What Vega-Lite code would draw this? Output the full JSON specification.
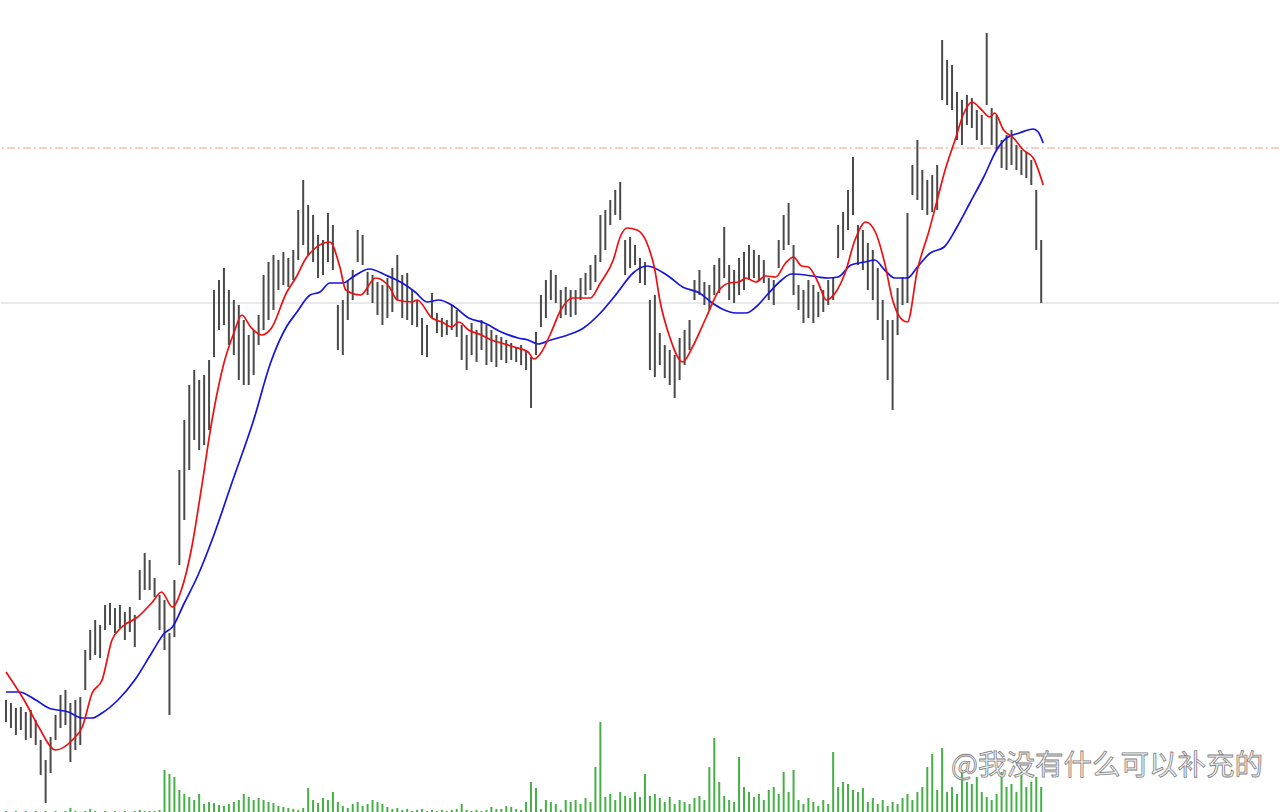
{
  "$schema": "https://vega.github.io/schema/vega-lite/v6.json",
  "width": 1280,
  "height": 812,
  "autosize": {"type": "fit", "contains": "padding"},
  "padding": 0,
  "background": "#ffffff",
  "config": {"view": {"stroke": null}},
  "datasets": {
    "p": [
      {"i":0,"h":112,"l":90,"v":1},{"i":1,"h":109,"l":84,"v":0},{"i":2,"h":104,"l":77,"v":1},{"i":3,"h":105,"l":82,"v":0},{"i":4,"h":100,"l":72,"v":1},
      {"i":5,"h":102,"l":74,"v":0},{"i":6,"h":92,"l":67,"v":1},{"i":7,"h":72,"l":37,"v":0},{"i":8,"h":52,"l":9,"v":1},{"i":9,"h":75,"l":39,"v":0},
      {"i":10,"h":97,"l":72,"v":1},{"i":11,"h":117,"l":84,"v":0},{"i":12,"h":122,"l":87,"v":1},{"i":13,"h":109,"l":50,"v":4},{"i":14,"h":112,"l":62,"v":1},
      {"i":15,"h":115,"l":67,"v":0},{"i":16,"h":162,"l":122,"v":1},{"i":17,"h":182,"l":152,"v":3},{"i":18,"h":192,"l":157,"v":1},{"i":19,"h":187,"l":154,"v":0},
      {"i":20,"h":207,"l":182,"v":1},{"i":21,"h":209,"l":187,"v":0},{"i":22,"h":204,"l":179,"v":1},{"i":23,"h":207,"l":184,"v":0},{"i":24,"h":200,"l":172,"v":1},
      {"i":25,"h":205,"l":180,"v":0},{"i":26,"h":197,"l":165,"v":1},{"i":27,"h":242,"l":212,"v":2},{"i":28,"h":259,"l":222,"v":1},{"i":29,"h":252,"l":222,"v":1},
      {"i":30,"h":234,"l":215,"v":1},{"i":31,"h":217,"l":182,"v":2},{"i":32,"h":212,"l":162,"v":42},{"i":33,"h":179,"l":97,"v":38},{"i":34,"h":232,"l":175,"v":35},
      {"i":35,"h":342,"l":247,"v":22},{"i":36,"h":392,"l":292,"v":18},{"i":37,"h":427,"l":342,"v":15},{"i":38,"h":442,"l":372,"v":12},{"i":39,"h":432,"l":362,"v":18},
      {"i":40,"h":437,"l":367,"v":8},{"i":41,"h":452,"l":382,"v":10},{"i":42,"h":522,"l":455,"v":9},{"i":43,"h":532,"l":482,"v":7},{"i":44,"h":544,"l":487,"v":6},
      {"i":45,"h":522,"l":467,"v":8},{"i":46,"h":512,"l":457,"v":10},{"i":47,"h":507,"l":432,"v":12},{"i":48,"h":492,"l":427,"v":18},{"i":49,"h":477,"l":427,"v":15},
      {"i":50,"h":482,"l":437,"v":12},{"i":51,"h":497,"l":467,"v":14},{"i":52,"h":537,"l":482,"v":12},{"i":53,"h":550,"l":492,"v":10},{"i":54,"h":557,"l":502,"v":9},
      {"i":55,"h":552,"l":522,"v":6},{"i":56,"h":560,"l":527,"v":5},{"i":57,"h":554,"l":525,"v":4},{"i":58,"h":562,"l":532,"v":3},{"i":59,"h":602,"l":552,"v":2},
      {"i":60,"h":632,"l":567,"v":4},{"i":61,"h":607,"l":557,"v":24},{"i":62,"h":597,"l":550,"v":12},{"i":63,"h":577,"l":534,"v":9},{"i":64,"h":572,"l":537,"v":14},
      {"i":65,"h":599,"l":550,"v":12},{"i":66,"h":587,"l":542,"v":20},{"i":67,"h":507,"l":462,"v":10},{"i":68,"h":512,"l":457,"v":6},{"i":69,"h":532,"l":492,"v":4},
      {"i":70,"h":542,"l":512,"v":8},{"i":71,"h":582,"l":550,"v":10},{"i":72,"h":577,"l":547,"v":6},{"i":73,"h":540,"l":517,"v":8},{"i":74,"h":537,"l":509,"v":12},
      {"i":75,"h":530,"l":497,"v":10},{"i":76,"h":527,"l":487,"v":8},{"i":77,"h":534,"l":494,"v":5},{"i":78,"h":544,"l":500,"v":3},{"i":79,"h":557,"l":512,"v":4},
      {"i":80,"h":537,"l":494,"v":2},{"i":81,"h":539,"l":492,"v":3},{"i":82,"h":522,"l":487,"v":1},{"i":83,"h":512,"l":485,"v":2},{"i":84,"h":494,"l":457,"v":3},
      {"i":85,"h":487,"l":455,"v":1},{"i":86,"h":519,"l":494,"v":2},{"i":87,"h":499,"l":479,"v":1},{"i":88,"h":494,"l":475,"v":2},{"i":89,"h":492,"l":477,"v":1},
      {"i":90,"h":507,"l":482,"v":2},{"i":91,"h":502,"l":475,"v":3},{"i":92,"h":487,"l":452,"v":8},{"i":93,"h":477,"l":442,"v":2},{"i":94,"h":489,"l":457,"v":1},
      {"i":95,"h":482,"l":450,"v":2},{"i":96,"h":492,"l":462,"v":1},{"i":97,"h":487,"l":447,"v":2},{"i":98,"h":482,"l":450,"v":5},{"i":99,"h":477,"l":445,"v":3},
      {"i":100,"h":475,"l":452,"v":3},{"i":101,"h":472,"l":449,"v":6},{"i":102,"h":469,"l":452,"v":5},{"i":103,"h":465,"l":450,"v":3},{"i":104,"h":467,"l":447,"v":2},
      {"i":105,"h":462,"l":442,"v":10},{"i":106,"h":455,"l":404,"v":30},{"i":107,"h":480,"l":457,"v":24},{"i":108,"h":517,"l":485,"v":3},{"i":109,"h":532,"l":494,"v":12},
      {"i":110,"h":542,"l":512,"v":10},{"i":111,"h":537,"l":509,"v":8},{"i":112,"h":522,"l":494,"v":2},{"i":113,"h":525,"l":497,"v":12},{"i":114,"h":522,"l":495,"v":10},
      {"i":115,"h":522,"l":497,"v":12},{"i":116,"h":534,"l":512,"v":8},{"i":117,"h":539,"l":517,"v":14},{"i":118,"h":547,"l":522,"v":10},{"i":119,"h":557,"l":530,"v":45},
      {"i":120,"h":597,"l":550,"v":90},{"i":121,"h":602,"l":562,"v":15},{"i":122,"h":612,"l":587,"v":18},{"i":123,"h":622,"l":597,"v":12},{"i":124,"h":630,"l":592,"v":20},
      {"i":125,"h":572,"l":537,"v":16},{"i":126,"h":575,"l":544,"v":14},{"i":127,"h":567,"l":547,"v":20},{"i":128,"h":554,"l":529,"v":15},{"i":129,"h":550,"l":527,"v":38},
      {"i":130,"h":512,"l":442,"v":16},{"i":131,"h":517,"l":435,"v":18},{"i":132,"h":479,"l":447,"v":14},{"i":133,"h":467,"l":434,"v":10},{"i":134,"h":462,"l":427,"v":15},
      {"i":135,"h":457,"l":414,"v":8},{"i":136,"h":474,"l":432,"v":12},{"i":137,"h":482,"l":447,"v":10},{"i":138,"h":492,"l":462,"v":8},{"i":139,"h":532,"l":512,"v":14},
      {"i":140,"h":542,"l":517,"v":16},{"i":141,"h":530,"l":507,"v":12},{"i":142,"h":527,"l":502,"v":45},{"i":143,"h":547,"l":517,"v":74},{"i":144,"h":554,"l":519,"v":30},
      {"i":145,"h":585,"l":534,"v":16},{"i":146,"h":547,"l":512,"v":12},{"i":147,"h":542,"l":509,"v":10},{"i":148,"h":554,"l":517,"v":55},{"i":149,"h":560,"l":522,"v":25},
      {"i":150,"h":567,"l":532,"v":20},{"i":151,"h":562,"l":534,"v":15},{"i":152,"h":557,"l":532,"v":18},{"i":153,"h":552,"l":529,"v":12},{"i":154,"h":534,"l":512,"v":22},
      {"i":155,"h":532,"l":507,"v":25},{"i":156,"h":572,"l":544,"v":18},{"i":157,"h":597,"l":562,"v":40},{"i":158,"h":609,"l":567,"v":20},{"i":159,"h":567,"l":517,"v":42},
      {"i":160,"h":527,"l":502,"v":12},{"i":161,"h":522,"l":489,"v":8},{"i":162,"h":532,"l":494,"v":14},{"i":163,"h":527,"l":489,"v":10},{"i":164,"h":520,"l":495,"v":6},
      {"i":165,"h":522,"l":500,"v":12},{"i":166,"h":532,"l":507,"v":8},{"i":167,"h":534,"l":512,"v":60},{"i":168,"h":587,"l":554,"v":25},{"i":169,"h":600,"l":562,"v":30},
      {"i":170,"h":622,"l":582,"v":28},{"i":171,"h":655,"l":597,"v":22},{"i":172,"h":587,"l":547,"v":20},{"i":173,"h":582,"l":542,"v":24},{"i":174,"h":569,"l":522,"v":10},
      {"i":175,"h":562,"l":512,"v":14},{"i":176,"h":544,"l":492,"v":8},{"i":177,"h":512,"l":472,"v":12},{"i":178,"h":492,"l":432,"v":6},{"i":179,"h":492,"l":402,"v":10},
      {"i":180,"h":524,"l":477,"v":8},{"i":181,"h":535,"l":507,"v":14},{"i":182,"h":599,"l":509,"v":18},{"i":183,"h":647,"l":617,"v":12},{"i":184,"h":672,"l":612,"v":20},
      {"i":185,"h":642,"l":602,"v":25},{"i":186,"h":632,"l":597,"v":45},{"i":187,"h":637,"l":600,"v":58},{"i":188,"h":647,"l":602,"v":22},{"i":189,"h":772,"l":712,"v":64},
      {"i":190,"h":752,"l":707,"v":20},{"i":191,"h":747,"l":702,"v":25},{"i":192,"h":720,"l":672,"v":18},{"i":193,"h":712,"l":667,"v":42},{"i":194,"h":717,"l":687,"v":30},
      {"i":195,"h":714,"l":684,"v":28},{"i":196,"h":702,"l":672,"v":35},{"i":197,"h":697,"l":667,"v":20},{"i":198,"h":779,"l":707,"v":15},{"i":199,"h":704,"l":667,"v":12},
      {"i":200,"h":697,"l":662,"v":18},{"i":201,"h":672,"l":644,"v":40},{"i":202,"h":677,"l":642,"v":25},{"i":203,"h":682,"l":647,"v":28},{"i":204,"h":667,"l":642,"v":20},
      {"i":205,"h":662,"l":637,"v":40},{"i":206,"h":660,"l":634,"v":25},{"i":207,"h":652,"l":627,"v":30},{"i":208,"h":622,"l":562,"v":35},{"i":209,"h":572,"l":509,"v":25}
    ],
    "red": [
      {"i":0,"y":140},{"i":4,"y":109},{"i":6.6,"y":85},{"i":10,"y":62},{"i":13.4,"y":72},{"i":15.4,"y":85},{"i":17.4,"y":119},{"i":19.4,"y":132},
      {"i":21.4,"y":172},{"i":23.4,"y":185},{"i":26.6,"y":195},{"i":29.4,"y":209},{"i":31.4,"y":220},{"i":33.6,"y":205},{"i":35.4,"y":222},{"i":37.4,"y":262},
      {"i":39.4,"y":322},{"i":41.6,"y":392},{"i":44,"y":449},{"i":46,"y":479},{"i":47.6,"y":497},{"i":49.4,"y":485},{"i":51.6,"y":477},{"i":53.6,"y":484},
      {"i":56.6,"y":519},{"i":58.6,"y":535},{"i":60.6,"y":554},{"i":62,"y":562},{"i":65.4,"y":570},{"i":67.4,"y":545},{"i":68.6,"y":522},{"i":71.6,"y":517},
      {"i":74.6,"y":534},{"i":77.4,"y":525},{"i":79,"y":512},{"i":82,"y":510},{"i":83,"y":512},{"i":86,"y":494},{"i":88,"y":490},{"i":90,"y":485},
      {"i":91.4,"y":490},{"i":93.4,"y":482},{"i":96,"y":477},{"i":98,"y":472},{"i":100,"y":469},{"i":102.6,"y":465},{"i":105.4,"y":460},{"i":106.6,"y":453},
      {"i":108,"y":459},{"i":110,"y":479},{"i":112,"y":502},{"i":114.4,"y":514},{"i":118,"y":514},{"i":120,"y":529},{"i":122.6,"y":552},{"i":124,"y":575},
      {"i":125.4,"y":584},{"i":127.4,"y":582},{"i":129.4,"y":569},{"i":131,"y":542},{"i":132,"y":512},{"i":134,"y":475},{"i":136.6,"y":450},{"i":138.6,"y":465},
      {"i":141.4,"y":495},{"i":144,"y":522},{"i":146,"y":529},{"i":148,"y":530},{"i":149.4,"y":534},{"i":151.4,"y":530},{"i":153.4,"y":536},{"i":155.4,"y":535},
      {"i":157.4,"y":549},{"i":159,"y":555},{"i":160.6,"y":546},{"i":162,"y":545},{"i":164,"y":529},{"i":165.6,"y":512},{"i":167.4,"y":519},{"i":169.4,"y":539},
      {"i":171.4,"y":572},{"i":173.6,"y":590},{"i":175.6,"y":579},{"i":177.4,"y":549},{"i":179,"y":512},{"i":180.6,"y":494},{"i":182,"y":490},{"i":184,"y":542},
      {"i":186.4,"y":582},{"i":188,"y":612},{"i":189.6,"y":642},{"i":191.6,"y":672},{"i":193.4,"y":699},{"i":195,"y":710},{"i":197,"y":702},{"i":198.6,"y":695},
      {"i":199.6,"y":699},{"i":201.4,"y":682},{"i":203.4,"y":674},{"i":205.4,"y":662},{"i":207.4,"y":654},{"i":209.4,"y":627}
    ],
    "blue": [
      {"i":0,"y":120},{"i":2.6,"y":120},{"i":6,"y":112},{"i":8.6,"y":104},{"i":12.6,"y":100},{"i":15.4,"y":94},{"i":17.4,"y":94},{"i":19.4,"y":99},
      {"i":22.6,"y":112},{"i":26,"y":132},{"i":29.4,"y":159},{"i":32,"y":179},{"i":33.6,"y":185},{"i":36,"y":209},{"i":38.6,"y":235},{"i":41.6,"y":272},
      {"i":45.8,"y":332},{"i":50,"y":392},{"i":53.4,"y":449},{"i":56.6,"y":485},{"i":58.6,"y":499},{"i":61.4,"y":517},{"i":63.4,"y":520},{"i":65.4,"y":529},
      {"i":68,"y":529},{"i":70,"y":535},{"i":73.4,"y":543},{"i":76.6,"y":537},{"i":80,"y":529},{"i":82.6,"y":520},{"i":85,"y":510},{"i":87.4,"y":512},
      {"i":90,"y":507},{"i":93.4,"y":494},{"i":96.6,"y":489},{"i":100,"y":480},{"i":103.4,"y":474},{"i":105.4,"y":472},{"i":107.4,"y":468},{"i":110,"y":472},
      {"i":113.4,"y":477},{"i":116.6,"y":484},{"i":120,"y":499},{"i":123.4,"y":519},{"i":126.6,"y":539},{"i":129.4,"y":546},{"i":133.4,"y":537},{"i":136.6,"y":525},
      {"i":140,"y":519},{"i":142.6,"y":509},{"i":144.6,"y":503},{"i":147.4,"y":499},{"i":149.4,"y":499},{"i":151.4,"y":505},{"i":154,"y":519},{"i":156.6,"y":532},
      {"i":158.6,"y":538},{"i":161.4,"y":537},{"i":164,"y":535},{"i":166,"y":534},{"i":168,"y":535},{"i":170.6,"y":547},{"i":173.4,"y":550},{"i":175.4,"y":552},
      {"i":177.4,"y":542},{"i":179.4,"y":534},{"i":182,"y":534},{"i":184,"y":545},{"i":186.6,"y":559},{"i":189.4,"y":565},{"i":192,"y":585},{"i":194.6,"y":609},
      {"i":197.4,"y":635},{"i":200,"y":662},{"i":202,"y":674},{"i":204.6,"y":679},{"i":207.4,"y":683},{"i":208.4,"y":680},{"i":209.4,"y":669}
    ],
    "lv": [{"y":664,"k":"o"},{"y":509,"k":"g"}],
    "wm": [{"i":190.8,"y":46,"t":"@我没有什么可以补充的"}]
  },
  "layer": [
    {
      "data": {"name": "lv"},
      "transform": [{"filter": "datum.k == 'g'"}],
      "mark": {"type": "rule", "color": "#d4d4d4", "strokeWidth": 1},
      "encoding": {"y": {"field": "y", "type": "quantitative", "scale": {"domain": [0, 812], "nice": false, "zero": false}, "axis": null}}
    },
    {
      "data": {"name": "lv"},
      "transform": [{"filter": "datum.k == 'o'"}],
      "mark": {"type": "rule", "color": "#f29a80", "strokeWidth": 1.2, "strokeDash": [8, 3, 2, 3]},
      "encoding": {"y": {"field": "y", "type": "quantitative", "scale": {"domain": [0, 812], "nice": false, "zero": false}, "axis": null}}
    },
    {
      "data": {"name": "p"},
      "mark": {"type": "rule", "color": "#4a4a4a", "strokeWidth": 2},
      "encoding": {
        "x": {"field": "i", "type": "quantitative", "scale": {"domain": [0, 256], "nice": false, "zero": false}, "axis": null},
        "y": {"field": "h", "type": "quantitative", "scale": {"domain": [0, 812], "nice": false, "zero": false}, "axis": null},
        "y2": {"field": "l"}
      }
    },
    {
      "data": {"name": "p"},
      "transform": [{"filter": "datum.v > 0"}],
      "mark": {"type": "bar", "color": "#45b045", "width": 2},
      "encoding": {
        "x": {"field": "i", "type": "quantitative", "scale": {"domain": [0, 256], "nice": false, "zero": false}, "axis": null},
        "y": {"field": "v", "type": "quantitative", "scale": {"domain": [0, 812], "nice": false, "zero": false}, "axis": null}
      }
    },
    {
      "data": {"name": "blue"},
      "mark": {"type": "line", "color": "#1414e0", "strokeWidth": 1.7, "interpolate": "monotone"},
      "encoding": {
        "x": {"field": "i", "type": "quantitative", "scale": {"domain": [0, 256], "nice": false, "zero": false}, "axis": null},
        "y": {"field": "y", "type": "quantitative", "scale": {"domain": [0, 812], "nice": false, "zero": false}, "axis": null}
      }
    },
    {
      "data": {"name": "red"},
      "mark": {"type": "line", "color": "#ee1010", "strokeWidth": 1.7, "interpolate": "monotone"},
      "encoding": {
        "x": {"field": "i", "type": "quantitative", "scale": {"domain": [0, 256], "nice": false, "zero": false}, "axis": null},
        "y": {"field": "y", "type": "quantitative", "scale": {"domain": [0, 812], "nice": false, "zero": false}, "axis": null}
      }
    },
    {
      "data": {"name": "wm"},
      "mark": {"type": "text", "align": "left", "baseline": "middle", "font": "Noto Sans CJK SC", "fontSize": 28.5, "fill": "#f4f4f4", "stroke": "#808080", "strokeWidth": 0.8},
      "encoding": {
        "x": {"field": "i", "type": "quantitative", "scale": {"domain": [0, 256], "nice": false, "zero": false}, "axis": null},
        "y": {"field": "y", "type": "quantitative", "scale": {"domain": [0, 812], "nice": false, "zero": false}, "axis": null},
        "text": {"field": "t"}
      }
    }
  ]
}
